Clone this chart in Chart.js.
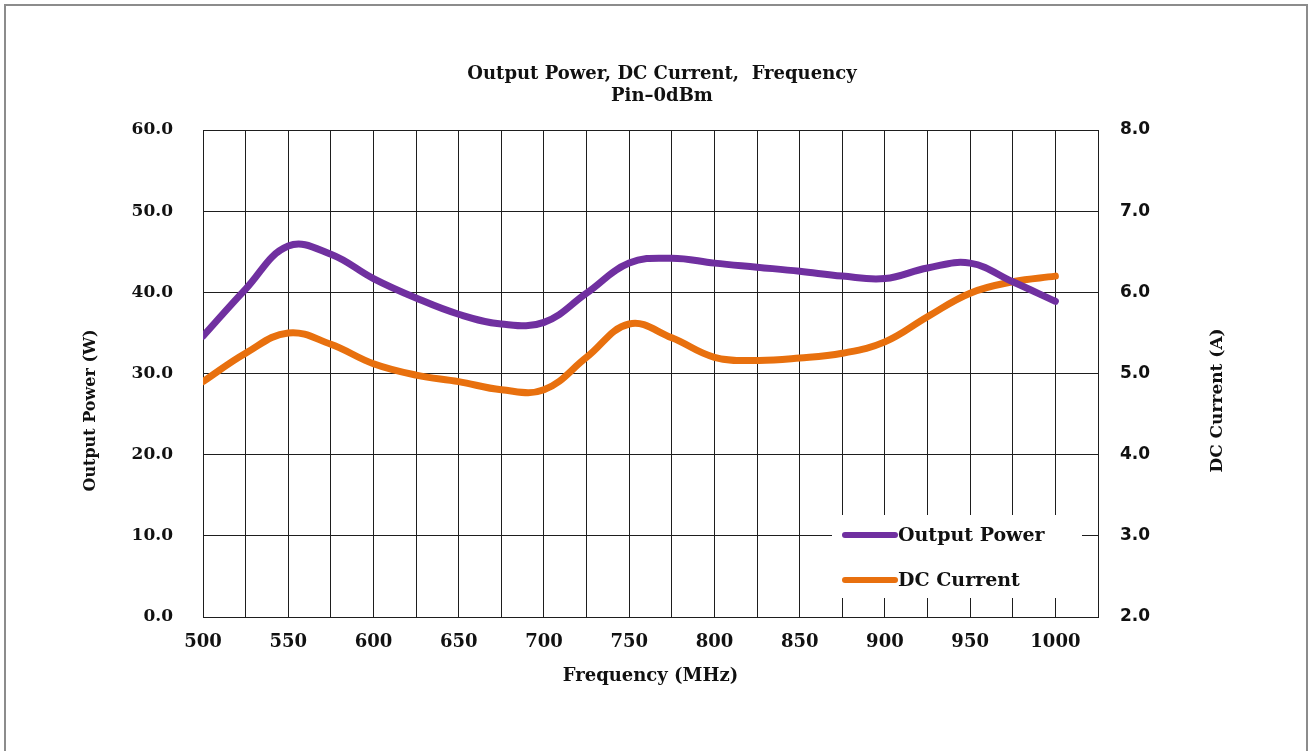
<!DOCTYPE html>
<html><head><meta charset="utf-8">
<script src="https://cdn.jsdelivr.net/npm/chart.js@4.4.0/dist/chart.umd.min.js"></script>
<style>
html,body{margin:0;padding:0;background:#fff;overflow:hidden;}
#frame{position:absolute;left:4px;top:4px;width:1304px;height:800px;border:2px solid #8c8c8c;box-sizing:border-box;}
#wrap{position:absolute;left:0;top:0;width:1309px;height:751px;}
</style></head><body>
<div id="frame"></div>
<div id="wrap"><canvas id="c" width="1309" height="751"></canvas></div>
<script>
const frequencies = [500,525,550,575,600,625,650,675,700,725,750,775,800,825,850,875,900,925,950,975,1000];
const outputPower = [34.6,40.4,45.7,44.7,41.7,39.3,37.3,36.1,36.3,39.9,43.6,44.2,43.6,43.1,42.6,42.0,41.7,43.0,43.6,41.3,38.9];
const dcCurrent   = [4.90,5.25,5.50,5.36,5.12,4.98,4.90,4.80,4.80,5.20,5.61,5.44,5.20,5.16,5.19,5.25,5.39,5.70,5.99,6.13,6.20];
const seriesLabels = ['Output Power','DC Current'];
const titleLines = ['Output Power, DC Current,  Frequency','Pin\u20130dBm'];
const xTitle = 'Frequency (MHz)';
const yLeftTitle = 'Output Power (W)';
const yRightTitle = 'DC Current (A)';

const serif = "'DejaVu Serif', serif";
const gridColor = '#1e1e1e';

const customText = {
  id: 'customText',
  beforeDatasetsDraw(chart) {
    const ctx = chart.ctx, a = chart.chartArea;
    const bx = a.right - 266, by = a.bottom - 102;
    ctx.save();
    ctx.fillStyle = '#fff';
    ctx.fillRect(bx, by, 250, 83);
    chart.data.datasets.forEach((ds, i) => {
      const y = by + 20 + i * 45;
      ctx.strokeStyle = ds.borderColor;
      ctx.lineWidth = 6;
      ctx.lineCap = 'round';
      ctx.beginPath(); ctx.moveTo(bx + 13, y); ctx.lineTo(bx + 63, y); ctx.stroke();
      ctx.fillStyle = '#111';
      ctx.font = 'bold 19px ' + serif;
      ctx.textAlign = 'left'; ctx.textBaseline = 'middle';
      ctx.fillText(ds.label, bx + 66, y + 1);
    });
    ctx.restore();
  },
  afterDraw(chart) {
    const ctx = chart.ctx, a = chart.chartArea;
    const cy = (a.top + a.bottom) / 2;
    ctx.save();
    ctx.fillStyle = '#111';
    ctx.textAlign = 'center'; ctx.textBaseline = 'middle';
    ctx.font = 'bold 16px ' + serif;
    ctx.translate(91, cy + 37);
    ctx.rotate(-Math.PI / 2);
    ctx.fillText(yLeftTitle, 0, 0);
    ctx.restore();
    ctx.save();
    ctx.fillStyle = '#111';
    ctx.textAlign = 'center'; ctx.textBaseline = 'middle';
    ctx.font = 'bold 17px ' + serif;
    ctx.translate(1218, cy + 27);
    ctx.rotate(-Math.PI / 2);
    ctx.fillText(yRightTitle, 0, 0);
    ctx.restore();
  }
};

new Chart(document.getElementById('c'), {
  type: 'line',
  data: {
    datasets: [
      { label: seriesLabels[0], data: frequencies.map((f, i) => ({x: f, y: outputPower[i]})),
        yAxisID: 'y', borderColor: '#7030A0', backgroundColor: '#7030A0', borderWidth: 7,
        pointRadius: 0, tension: 0.4, fill: false, borderCapStyle: 'round' },
      { label: seriesLabels[1], data: frequencies.map((f, i) => ({x: f, y: dcCurrent[i]})),
        yAxisID: 'y1', borderColor: '#E8700E', backgroundColor: '#E8700E', borderWidth: 7,
        pointRadius: 0, tension: 0.4, fill: false, borderCapStyle: 'round' }
    ]
  },
  options: {
    responsive: false, animation: false, devicePixelRatio: 1,
    layout: { padding: { left: 15, right: 0, top: 0, bottom: 0 } },
    plugins: {
      legend: { display: false },
      tooltip: { enabled: false },
      title: { display: true, text: titleLines, color: '#111',
        font: { family: serif, size: 18, weight: 'bold', lineHeight: 1.2 },
        padding: { top: 64, bottom: 22.8 } }
    },
    scales: {
      x: { type: 'linear', min: 500, max: 1025,
        afterFit: s => { s.height = 134; },
        grid: { color: gridColor, lineWidth: 1, drawTicks: false },
        border: { color: gridColor, width: 1 },
        ticks: { stepSize: 25, autoSkip: false, maxRotation: 0, padding: 15, color: '#111',
          font: { family: serif, size: 18, weight: 'bold' },
          callback: v => (v % 50 === 0 && v <= 1000) ? String(v) : '' },
        title: { display: true, text: xTitle, color: '#111',
          font: { family: serif, size: 18, weight: 'bold', lineHeight: 1.2 },
          padding: { top: 0, bottom: 64 } }
      },
      y: { position: 'left', min: 0, max: 60,
        afterFit: s => { s.width = 188; },
        grid: { color: gridColor, lineWidth: 1, drawTicks: false },
        border: { color: gridColor, width: 1 },
        ticks: { stepSize: 10, padding: 30, color: '#111',
          font: { family: serif, size: 17, weight: 'bold' },
          callback: v => Number(v).toFixed(1) }
      },
      y1: { position: 'right', min: 2, max: 8,
        afterFit: s => { s.width = 211; },
        grid: { display: false, drawTicks: false },
        border: { color: gridColor, width: 1 },
        ticks: { stepSize: 1, padding: 22, color: '#111',
          font: { family: "'DejaVu Sans', sans-serif", size: 17, weight: 'bold' },
          callback: v => Number(v).toFixed(1) }
      }
    }
  },
  plugins: [customText]
});
</script>
</body></html>
